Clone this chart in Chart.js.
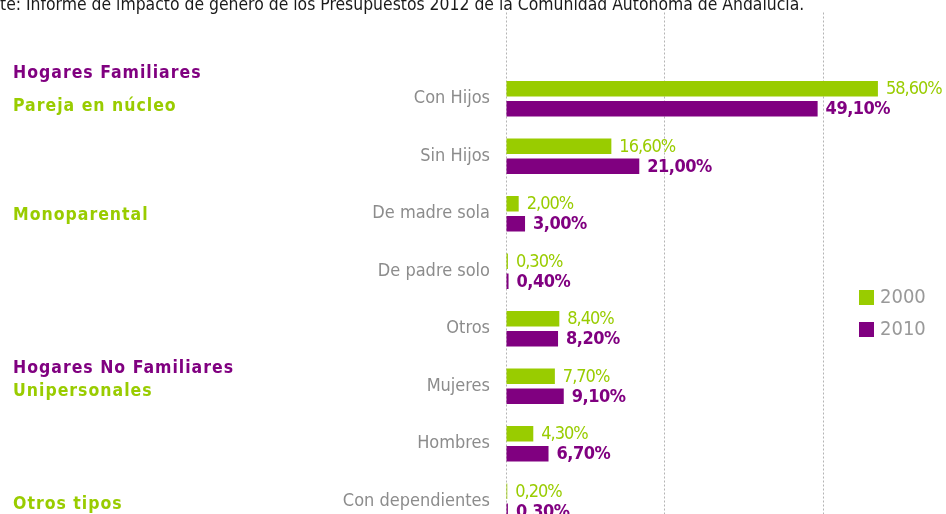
<!DOCTYPE html>
<html>
<head>
<meta charset="utf-8">
<script src="https://cdn.jsdelivr.net/npm/chart.js@4.4.1/dist/chart.umd.min.js"></script>
<style>
  html, body { margin: 0; padding: 0; background: #fff; overflow: hidden; }
  #wrap { width: 946px; height: 514px; overflow: hidden; position: relative; }
  #chartHogares { position: absolute; left: 0; top: 0; }
</style>
</head>
<body>
<div id="wrap"><canvas id="chartHogares" width="1000" height="560"></canvas></div>
<script>
const categorias = ['', 'Con Hijos', 'Sin Hijos', 'De madre sola', 'De padre solo', 'Otros', 'Mujeres', 'Hombres', 'Con dependientes'];
const valores2000 = [null, 58.6, 16.6, 2.0, 0.3, 8.4, 7.7, 4.3, 0.2];
const valores2010 = [null, 49.1, 21.0, 3.0, 0.4, 8.2, 9.1, 6.7, 0.3];
const series = ['2000', '2010'];
// grupos de la izquierda: texto, color, categoria a la que se asocian
const grupos = ['Hogares Familiares', 'Pareja en núcleo', 'Monoparental', 'Hogares No Familiares', 'Unipersonales', 'Otros tipos'];
const gruposFila = [1, 1, 3, 6, 6, 8];
const gruposColor = ['#800080', '#99cc00', '#99cc00', '#800080', '#99cc00', '#99cc00'];
const fuente = 'Fuente: Informe de impacto de género de los Presupuestos 2012 de la Comunidad Autónoma de Andalucía.';

const VERDE = '#99cc00';
const MORADO = '#800080';
const NARROW = "'Liberation Sans Narrow', 'DejaVu Sans Condensed', sans-serif";

const fmt = v => v.toFixed(2).replace('.', ',') + '%';

// desplazamiento vertical de cada grupo respecto al centro de su categoria
const gruposDy = [-25, 8, 2, -18, 5, 3];

const extras = {
  id: 'extras',
  afterDatasetsDraw(chart) {
    const c = chart.ctx;
    const y = chart.scales.y;
    c.save();
    // titulo / fuente (recortado por la izquierda como en el original)
    c.font = '17.4px ' + NARROW;
    c.fillStyle = '#1a1a1a';
    c.textBaseline = 'alphabetic';
    c.textAlign = 'left';
    const off = c.measureText('Fuen').width;
    c.fillText(fuente, -off, 10);

    // etiquetas de valores
    chart.data.datasets.forEach((ds, i) => {
      const meta = chart.getDatasetMeta(i);
      c.font = (i === 0 ? '' : 'bold ') + '18px ' + NARROW;
      c.letterSpacing = i === 0 ? '-1px' : '-0.5px';
      c.fillStyle = ds.backgroundColor;
      c.textBaseline = 'middle';
      meta.data.forEach((bar, j) => {
        const v = ds.data[j];
        if (v === null) return;
        c.fillText(fmt(v), bar.x + 8, bar.y + 1);
      });
    });

    // grupos de la izquierda
    c.font = 'bold 17.5px ' + NARROW;
    c.letterSpacing = '1px';
    c.textBaseline = 'middle';
    grupos.forEach((g, k) => {
      c.fillStyle = gruposColor[k];
      c.fillText(g, 13, y.getPixelForValue(gruposFila[k]) + gruposDy[k]);
    });
    c.letterSpacing = '0px';

    // leyenda
    c.font = '20px ' + NARROW;
    chart.data.datasets.forEach((ds, i) => {
      const ly = 290 + i * 32;
      c.fillStyle = ds.backgroundColor;
      c.fillRect(859, ly, 15, 15);
      c.fillStyle = '#999';
      c.fillText(ds.label, 880, ly + 8);
    });
    c.restore();
  }
};

const ctx = document.getElementById('chartHogares').getContext('2d');
new Chart(ctx, {
  type: 'bar',
  data: {
    labels: categorias,
    datasets: [
      { label: series[0], data: valores2000, backgroundColor: VERDE },
      { label: series[1], data: valores2010, backgroundColor: MORADO }
    ]
  },
  options: {
    indexAxis: 'y',
    responsive: false,
    animation: false,
    categoryPercentage: 0.696,
    barPercentage: 0.775,
    layout: { padding: { left: 0, top: 12.5, right: 18, bottom: 30 } },
    plugins: { legend: { display: false }, tooltip: { enabled: false } },
    scales: {
      x: {
        min: 0, max: 75,
        ticks: { display: false, stepSize: 25 },
        border: { display: false, dash: [2, 2] },
        grid: { color: '#b4b4b4', lineWidth: 1, drawTicks: false },
        afterFit: s => { s.height = 0; s.paddingLeft = 0; s.paddingRight = 0; }
      },
      y: {
        grid: { display: false, drawTicks: false },
        border: { display: false },
        ticks: { color: '#8c8c8c', padding: 16, font: { family: NARROW, size: 18 } },
        afterFit: s => { s.width = 506; s.paddingTop = 0; s.paddingBottom = 0; }
      }
    }
  },
  plugins: [extras]
});
</script>
</body>
</html>
